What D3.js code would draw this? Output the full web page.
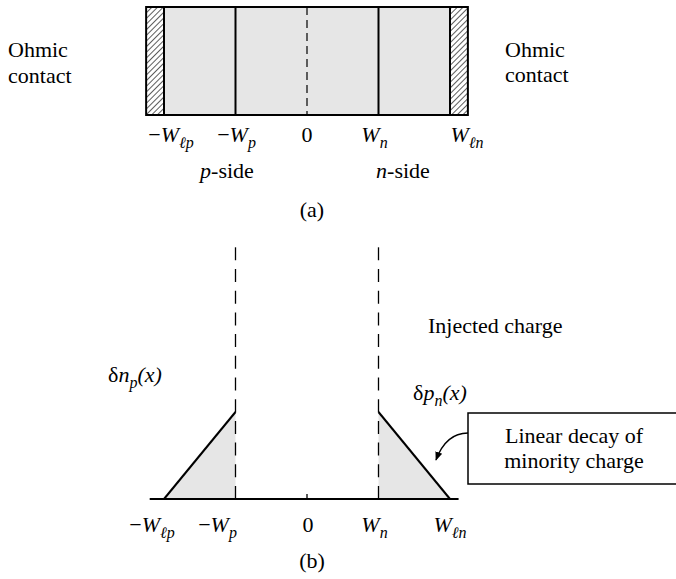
<!DOCTYPE html>
<html><head><meta charset="utf-8">
<script src="https://cdn.jsdelivr.net/npm/d3@7"></script>
<style>
body{margin:0;background:#fff}
svg{display:block}
text{font-family:"Liberation Serif","Times New Roman",serif;font-size:22px;fill:#000}
</style>
</head><body>
<svg id="c" width="676" height="579"></svg>
<script>
// ---- data ----
const positions = [-2, -1, 0, 1, 2];           // -Wlp, -Wp, 0, Wn, Wln
const tickLabels = [
  [["−","n"],["W","i"],["ℓp","s"]],
  [["−","n"],["W","i"],["p","s"]],
  [["0","n"]],
  [["W","i"],["n","s"]],
  [["W","i"],["ℓn","s"]]
];
const junctionEdges = [-1, 1];                 // -Wp, Wn
const contactInner = [-2, 2];                  // inner edge of ohmic contacts
const deviceEdges = [-2.25, 2.25];             // outer edges of device
const npX = [-2, -1], npY = [0, 1];            // δn_p(x) linear profile
const pnX = [1, 2],  pnY = [1, 0];             // δp_n(x) linear profile
const axisExtent = [-2.2, 2.12];
const dashTop = 2.95;

// ---- layout ----
const svg = d3.select("#c");
const x = d3.scaleLinear().domain([0, 1]).range([307, 378.5]);
const y = d3.scaleLinear().domain([0, 1]).range([499, 412]);
const boxTop = 7, boxBot = 115;
const fillGrey = "#e6e6e6";

function rich(g, parts, px, py, anchor) {
  const t = g.append("text").attr("x", px).attr("y", py).attr("text-anchor", anchor || "middle");
  let sub = false;
  parts.forEach(([s, st]) => {
    const sp = t.append("tspan").text(s);
    if (st === "i" || st === "s") sp.attr("font-style", "italic");
    if (st === "s") { sp.attr("font-size", 16); if (!sub) sp.attr("dy", 6); sub = true; }
    else { if (sub) sp.attr("dy", -6); sub = false; }
  });
  return t;
}

// hatch pattern
const defs = svg.append("defs");
const pat = defs.append("pattern").attr("id", "hatch").attr("patternUnits", "userSpaceOnUse")
  .attr("width", 4).attr("height", 4).attr("patternTransform", "rotate(45)");
pat.append("rect").attr("width", 4).attr("height", 4).attr("fill", "#fff");
pat.append("line").attr("x1", 0).attr("y1", 0).attr("x2", 0).attr("y2", 4)
  .attr("stroke", "#333").attr("stroke-width", 1.6);
defs.append("marker").attr("id", "arr").attr("viewBox", "0 0 10 10").attr("refX", 9).attr("refY", 5)
  .attr("markerWidth", 9).attr("markerHeight", 9).attr("orient", "auto-start-reverse")
  .attr("markerUnits", "userSpaceOnUse")
  .append("path").attr("d", "M0,1 L10,5 L0,9 Z").attr("fill", "#000");

// ---- panel (a) ----
const ga = svg.append("g");
ga.append("rect").attr("x", x(deviceEdges[0])).attr("y", boxTop)
  .attr("width", x(deviceEdges[1]) - x(deviceEdges[0])).attr("height", boxBot - boxTop)
  .attr("fill", fillGrey);
[[deviceEdges[0], contactInner[0]], [contactInner[1], deviceEdges[1]]].forEach(([a, b]) => {
  ga.append("rect").attr("x", x(a)).attr("y", boxTop).attr("width", x(b) - x(a))
    .attr("height", boxBot - boxTop).attr("fill", "url(#hatch)");
});
contactInner.concat(junctionEdges).forEach(p => {
  ga.append("line").attr("x1", x(p)).attr("x2", x(p)).attr("y1", boxTop).attr("y2", boxBot)
    .attr("stroke", "#000").attr("stroke-width", 2);
});
ga.append("line").attr("x1", x(0)).attr("x2", x(0)).attr("y1", boxTop).attr("y2", boxBot)
  .attr("stroke", "#000").attr("stroke-width", 1.2).attr("stroke-dasharray", "8,5");
ga.append("rect").attr("x", x(deviceEdges[0])).attr("y", boxTop)
  .attr("width", x(deviceEdges[1]) - x(deviceEdges[0])).attr("height", boxBot - boxTop)
  .attr("fill", "none").attr("stroke", "#000").attr("stroke-width", 2);

const topDx = [7, 1, 0, -4, 17];
positions.forEach((p, i) => rich(ga, tickLabels[i], x(p) + topDx[i], 142));
rich(ga, [["p","i"],["-side","n"]], 227, 178);
rich(ga, [["n","i"],["-side","n"]], 403, 178);
ga.append("text").attr("x", 312).attr("y", 217).attr("text-anchor", "middle").text("(a)");
ga.append("text").attr("x", 8).attr("y", 57).text("Ohmic");
ga.append("text").attr("x", 8).attr("y", 83).text("contact");
ga.append("text").attr("x", 505).attr("y", 57).text("Ohmic");
ga.append("text").attr("x", 505).attr("y", 82).text("contact");

// ---- panel (b) ----
const gb = svg.append("g");
const area = d3.area().x(d => x(d[0])).y0(y(0)).y1(d => y(d[1]));
const line = d3.line().x(d => x(d[0])).y(d => y(d[1]));
[[npX, npY], [pnX, pnY]].forEach(([xs, ys]) => {
  const pts = xs.map((v, i) => [v, ys[i]]);
  gb.append("path").attr("d", area(pts)).attr("fill", fillGrey);
});
junctionEdges.forEach(p => {
  gb.append("line").attr("x1", x(p)).attr("x2", x(p)).attr("y1", y(0)).attr("y2", y(dashTop))
    .attr("stroke", "#000").attr("stroke-width", 1.3).attr("stroke-dasharray", "13,8.7");
});
[[npX, npY], [pnX, pnY]].forEach(([xs, ys]) => {
  const pts = xs.map((v, i) => [v, ys[i]]);
  gb.append("path").attr("d", line(pts)).attr("fill", "none").attr("stroke", "#000").attr("stroke-width", 2);
});
gb.append("line").attr("x1", x(axisExtent[0])).attr("x2", x(axisExtent[1])).attr("y1", y(0)).attr("y2", y(0))
  .attr("stroke", "#000").attr("stroke-width", 2.2);
gb.append("line").attr("x1", x(0)).attr("x2", x(0)).attr("y1", y(0)).attr("y2", y(0) - 5)
  .attr("stroke", "#000").attr("stroke-width", 1.3);

const botDx = [-12, -18, 1, -4, 0];
positions.forEach((p, i) => rich(gb, tickLabels[i], x(p) + botDx[i], 532));
gb.append("text").attr("x", 312).attr("y", 568).attr("text-anchor", "middle").text("(b)");

rich(gb, [["δ","n"],["n","i"],["p","s"],["(x)","i"]], 108, 382, "start");
rich(gb, [["δ","n"],["p","i"],["n","s"],["(x)","i"]], 413, 400, "start");
gb.append("text").attr("x", 428).attr("y", 333).text("Injected charge");

// callout
gb.append("rect").attr("x", 468).attr("y", 413).attr("width", 214).attr("height", 71)
  .attr("fill", "#fff").attr("stroke", "#000").attr("stroke-width", 1.5);
gb.append("text").attr("x", 574).attr("y", 443).attr("text-anchor", "middle").text("Linear decay of");
gb.append("text").attr("x", 574).attr("y", 468).attr("text-anchor", "middle").text("minority charge");
gb.append("path").attr("d", "M468,433 Q446,433 436,460").attr("fill", "none")
  .attr("stroke", "#000").attr("stroke-width", 1.3).attr("marker-end", "url(#arr)");
</script>
</body></html>
